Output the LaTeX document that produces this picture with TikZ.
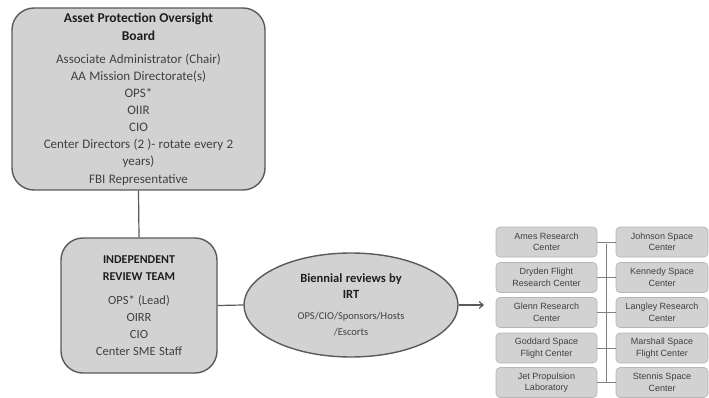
\documentclass[tikz,border=0pt]{standalone}
\usepackage{fontspec}
\setmainfont{Carlito}
\newfontfamily\arialf{Liberation Sans}
\usetikzlibrary{shapes.geometric,arrows.meta}
\definecolor{boxfill}{HTML}{D2D2D2}
\definecolor{boxdraw}{HTML}{5A5A5A}
\definecolor{bodytxt}{HTML}{404040}
\definecolor{titletxt}{HTML}{1E1E1E}
\tikzset{
  bigbox/.style={draw=boxdraw, fill=boxfill, line width=1.4pt, rounded corners=22pt, align=center, inner sep=0pt},
  ellbox/.style={draw=boxdraw, fill=boxfill, line width=1.4pt, ellipse, align=center, inner sep=0pt},
  smallbox/.style={draw=boxfill!65!gray, fill=boxfill, line width=0.6pt, rounded corners=4pt, align=center, inner sep=0pt, minimum height=30pt, font=\arialf\fontsize{9}{11.5}\selectfont, text=bodytxt},
  conn/.style={draw=boxdraw, line width=1.2pt},
  thinconn/.style={draw=gray, line width=0.7pt},
}
\begin{document}
\begin{tikzpicture}[x=1pt,y=-1pt]
\useasboundingbox (0,0) rectangle (709,398);
\node[bigbox, minimum width=253pt, minimum height=182pt, text width=240pt] (apob) at (138.5,99)
 {{\fontsize{13.5}{18}\selectfont\bfseries\color{titletxt}Asset Protection Oversight\\ Board\par}\vspace{6pt}
  {\fontsize{13}{17.1}\selectfont\color{bodytxt}Associate Administrator (Chair)\\ AA Mission Directorate(s)\\ OPS*\\ OIIR\\ CIO\\ Center Directors (2 )- rotate every 2\\ years)\\ FBI Representative\par}};
\node[bigbox, minimum width=156pt, minimum height=135pt, text width=140pt] (irt) at (139,305.5)
 {{\fontsize{12}{16.5}\selectfont\bfseries\color{titletxt}INDEPENDENT\\ REVIEW TEAM\par}\vspace{7pt}
  {\fontsize{12.5}{17}\selectfont\color{bodytxt}OPS* (Lead)\\ OIRR\\ CIO\\ Center SME Staff\par}};
\node[ellbox, minimum width=214pt, minimum height=104pt, text width=140pt] (ell) at (351,305)
 {{\fontsize{12.5}{16.5}\selectfont\bfseries\color{titletxt}Biennial reviews by\\ IRT\par}\vspace{5pt}
  {\fontsize{10.5}{16}\selectfont\color{bodytxt}OPS/CIO/Sponsors/Hosts\\ /Escorts\par}};
\coordinate (arrowend) at (484,305);
% left column
\node[smallbox, minimum width=101pt] (ames) at (546.5,242) {Ames Research\\ Center};
\node[smallbox, minimum width=101pt] (dryden) at (546.5,277.5) {Dryden Flight\\ Research Center};
\node[smallbox, minimum width=101pt] (glenn) at (546.5,312.5) {Glenn Research\\ Center};
\node[smallbox, minimum width=101pt] (goddard) at (546.5,348) {Goddard Space\\ Flight Center};
\node[smallbox, minimum width=101pt] (jpl) at (546.5,382.5) {Jet Propulsion\\ Laboratory};
% right column
\node[smallbox, minimum width=92pt] (johnson) at (662,242) {Johnson Space\\ Center};
\node[smallbox, minimum width=92pt] (kennedy) at (662,277.5) {Kennedy Space\\ Center};
\node[smallbox, minimum width=92pt] (langley) at (662,312.5) {Langley Research\\ Center};
\node[smallbox, minimum width=92pt] (marshall) at (662,348) {Marshall Space\\ Flight Center};
\node[smallbox, minimum width=92pt] (stennis) at (662,382.5) {Stennis Space\\ Center};
% connectors
\draw[conn] (apob.south) -- (irt.north);
\draw[conn] (irt.east) -- (ell.west);
\draw[conn, -{Straight Barb[length=4pt,width=7pt]}] (ell.east) -- (arrowend);
\coordinate (spinetop) at (606,244);
\coordinate (spinebot) at (606,382.5);
\draw[thinconn] (spinetop) -- (spinebot);
\draw[thinconn] (ames.east) -- (johnson.west);
\draw[thinconn] (dryden.east) -- (kennedy.west);
\draw[thinconn] (glenn.east) -- (langley.west);
\draw[thinconn] (goddard.east) -- (marshall.west);
\draw[thinconn] (jpl.east) -- (stennis.west);
\end{tikzpicture}
\end{document}
